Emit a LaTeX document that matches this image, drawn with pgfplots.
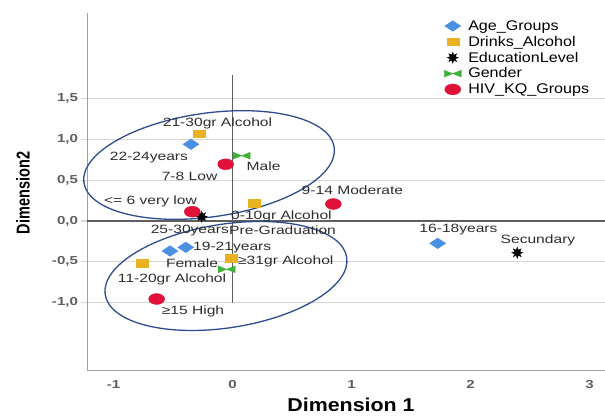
\documentclass[border=0pt]{standalone}
\usepackage{fontspec}
\setmainfont{Liberation Sans}[FakeStretch=1.15]
\newfontfamily\labfont{Liberation Sans}[FakeStretch=1.3]
\newfontfamily\ylabfont{Liberation Sans}[FakeStretch=0.78]
\usepackage{pgfplots}
\pgfplotsset{compat=1.18}

\definecolor{agecol}{RGB}{74,144,226}
\definecolor{drinkcol}{RGB}{232,178,34}
\definecolor{gendcol}{RGB}{62,178,52}
\definecolor{hivcol}{RGB}{224,18,58}
\definecolor{ellcol}{RGB}{46,76,142}
\definecolor{gridgray}{RGB}{214,214,214}
\definecolor{axgray}{RGB}{160,160,160}
\definecolor{refgray}{RGB}{95,95,95}
\definecolor{txtcol}{RGB}{45,45,45}

% flat marks as in the SPSS output
\pgfdeclareplotmark{fdiamond}{%
  \pgfpathmoveto{\pgfqpoint{\pgfplotmarksize}{0pt}}%
  \pgfpathlineto{\pgfqpoint{0pt}{0.66\pgfplotmarksize}}%
  \pgfpathlineto{\pgfqpoint{-\pgfplotmarksize}{0pt}}%
  \pgfpathlineto{\pgfqpoint{0pt}{-0.66\pgfplotmarksize}}%
  \pgfpathclose\pgfusepathqfillstroke}
\pgfdeclareplotmark{fsquare}{%
  \pgfpathrectangle{\pgfqpoint{-\pgfplotmarksize}{-0.65\pgfplotmarksize}}%
    {\pgfqpoint{2\pgfplotmarksize}{1.3\pgfplotmarksize}}%
  \pgfusepathqfillstroke}
\pgfdeclareplotmark{fcircle}{%
  \pgfpathellipse{\pgfpointorigin}{\pgfqpoint{\pgfplotmarksize}{0pt}}%
    {\pgfqpoint{0pt}{0.68\pgfplotmarksize}}%
  \pgfusepathqfillstroke}
\pgfdeclareplotmark{bowtie}{%
  \pgfpathmoveto{\pgfqpoint{-\pgfplotmarksize}{-0.4\pgfplotmarksize}}%
  \pgfpathlineto{\pgfqpoint{-\pgfplotmarksize}{0.4\pgfplotmarksize}}%
  \pgfpathlineto{\pgfqpoint{\pgfplotmarksize}{-0.4\pgfplotmarksize}}%
  \pgfpathlineto{\pgfqpoint{\pgfplotmarksize}{0.4\pgfplotmarksize}}%
  \pgfpathclose\pgfusepathqfillstroke}
\pgfdeclareplotmark{sstar}{%
  \pgfpathmoveto{\pgfpointpolar{90}{\pgfplotmarksize}}%
  \pgfpathlineto{\pgfpointpolar{112.5}{0.5\pgfplotmarksize}}%
  \pgfpathlineto{\pgfpointpolar{135}{\pgfplotmarksize}}%
  \pgfpathlineto{\pgfpointpolar{157.5}{0.5\pgfplotmarksize}}%
  \pgfpathlineto{\pgfpointpolar{180}{\pgfplotmarksize}}%
  \pgfpathlineto{\pgfpointpolar{202.5}{0.5\pgfplotmarksize}}%
  \pgfpathlineto{\pgfpointpolar{225}{\pgfplotmarksize}}%
  \pgfpathlineto{\pgfpointpolar{247.5}{0.5\pgfplotmarksize}}%
  \pgfpathlineto{\pgfpointpolar{270}{\pgfplotmarksize}}%
  \pgfpathlineto{\pgfpointpolar{292.5}{0.5\pgfplotmarksize}}%
  \pgfpathlineto{\pgfpointpolar{315}{\pgfplotmarksize}}%
  \pgfpathlineto{\pgfpointpolar{337.5}{0.5\pgfplotmarksize}}%
  \pgfpathlineto{\pgfpointpolar{0}{\pgfplotmarksize}}%
  \pgfpathlineto{\pgfpointpolar{22.5}{0.5\pgfplotmarksize}}%
  \pgfpathlineto{\pgfpointpolar{45}{\pgfplotmarksize}}%
  \pgfpathlineto{\pgfpointpolar{67.5}{0.5\pgfplotmarksize}}%
  \pgfpathclose\pgfusepathqfillstroke}

\begin{document}
\begin{tikzpicture}
\begin{axis}[
  scale only axis,
  width=517.5pt, height=357.5pt,
  xmin=-1.2185, xmax=3.1303,
  ymin=-1.8333, ymax=2.5478,
  axis x line=bottom, axis y line=left,
  axis line style={draw=axgray, line width=1.5pt, -},
  xtick={-1,0,1,2,3},
  xticklabels={-1,0,1,2,3},
  ytick={-1,-0.5,0,0.5,1,1.5},
  yticklabels={{-1,0},{-0,5},{0,0},{0,5},{1,0},{1,5}},
  tick align=outside,
  major tick length=6pt,
  xtick style={draw=none},
  ytick style={draw=gridgray, line width=1.2pt},
  ymajorgrids,
  grid style={draw=gridgray, line width=1.2pt},
  tick label style={font=\labfont\bfseries\fontsize{11.6}{12}\selectfont, text=refgray},
  clip=false,
  legend cell align=left,
  legend style={
    at={(0.689,0.980)}, anchor=north west,
    draw=none, fill=none,
    font=\fontsize{14}{14}\selectfont,
    row sep=4.3pt, inner sep=0pt,
    nodes={inner sep=0pt},
    /tikz/every odd column/.append style={column sep=7pt},
  },
  legend image code/.code={%
    \path (-8pt,0pt) (8pt,0pt);
    \draw[#1] plot coordinates {(0pt,0pt)};},
]
\coordinate (bl) at (rel axis cs:0,0);
\coordinate (tr) at (rel axis cs:1,1);

% reference lines through the origin
\draw[refgray, line width=1.4pt] (axis cs:0,-1) -- (axis cs:0,1.788);
\draw[refgray, line width=1.4pt] (axis cs:-1.2185,0) -- (axis cs:3.1303,0);

% group ellipses
\draw[ellcol, line width=1.3pt, rotate around={8:(axis cs:-0.197,0.685)}]
  (axis cs:-0.197,0.685) ellipse [x radius=126.4pt, y radius=51.9pt];
\draw[ellcol, line width=1.3pt, rotate around={8.8:(axis cs:-0.055,-0.675)}]
  (axis cs:-0.055,-0.675) ellipse [x radius=122.2pt, y radius=51.8pt];

\addplot[only marks, mark=fdiamond, mark size=8pt, draw=agecol, fill=agecol]
  coordinates {(-0.349,0.939) (-0.525,-0.369) (-0.393,-0.324) (1.724,-0.275)};
\addlegendentry{Age\_Groups}
\addplot[only marks, mark=fsquare, mark size=6pt, draw=drinkcol, fill=drinkcol]
  coordinates {(-0.282,1.069) (0.181,0.215) (-0.758,-0.520) (-0.007,-0.458)};
\addlegendentry{Drinks\_Alcohol}
\addplot[only marks, mark=sstar, mark size=5.5pt, draw=black, fill=black]
  coordinates {(-0.259,0.052) (2.393,-0.390)};
\addlegendentry{EducationLevel}
\addplot[only marks, mark=bowtie, mark size=8.5pt, draw=gendcol, fill=gendcol]
  coordinates {(0.077,0.799) (-0.049,-0.593)};
\addlegendentry{Gender}
\addplot[only marks, mark=fcircle, mark size=8pt, draw=hivcol, fill=hivcol]
  coordinates {(-0.057,0.694) (-0.338,0.113) (0.847,0.207) (-0.637,-0.957)};
\addlegendentry{HIV\_KQ\_Groups}

% point labels
\begin{scope}[every node/.style={font=\labfont\fontsize{12}{12}\selectfont, text=txtcol, inner sep=0pt}]
\node at (axis cs:-0.126,1.199) {21-30gr Alcohol};
\node at (axis cs:-0.702,0.779) {22-24years};
\node at (axis cs:0.261,0.673) {Male};
\node at (axis cs:-0.361,0.542) {7-8 Low};
\node[anchor=east] at (axis cs:-0.298,0.244) {<= 6 very low};
\node[anchor=west] at (axis cs:-0.013,0.052) {0-10gr Alcohol};
\node at (axis cs:1.008,0.370) {9-14 Moderate};
\node[anchor=east] at (axis cs:-0.029,-0.120) {25-30years};
\node[anchor=west] at (axis cs:-0.029,-0.120) {Pre-Graduation};
\node[anchor=west] at (axis cs:-0.332,-0.324) {19-21years};
\node at (axis cs:-0.340,-0.520) {Female};
\node[anchor=west] at (axis cs:0.046,-0.500) {≥31gr Alcohol};
\node at (axis cs:-0.508,-0.712) {11-20gr Alcohol};
\node at (axis cs:-0.332,-1.104) {≥15 High};
\node at (axis cs:1.899,-0.112) {16-18years};
\node at (axis cs:2.567,-0.234) {Secundary};
\end{scope}

% axis titles
\node[font=\bfseries\fontsize{18.6}{19}\selectfont] at (axis cs:0.996,-2.256) {Dimension 1};
\node[font=\ylabfont\bfseries\fontsize{18.6}{19}\selectfont, rotate=90] at (axis cs:-1.761,0.342) {Dimension2};
\end{axis}
\pgfresetboundingbox
\path ([shift={(-87.5pt,-47.5pt)}]bl) rectangle ([shift={(0pt,13pt)}]tr);
\end{tikzpicture}
\end{document}
